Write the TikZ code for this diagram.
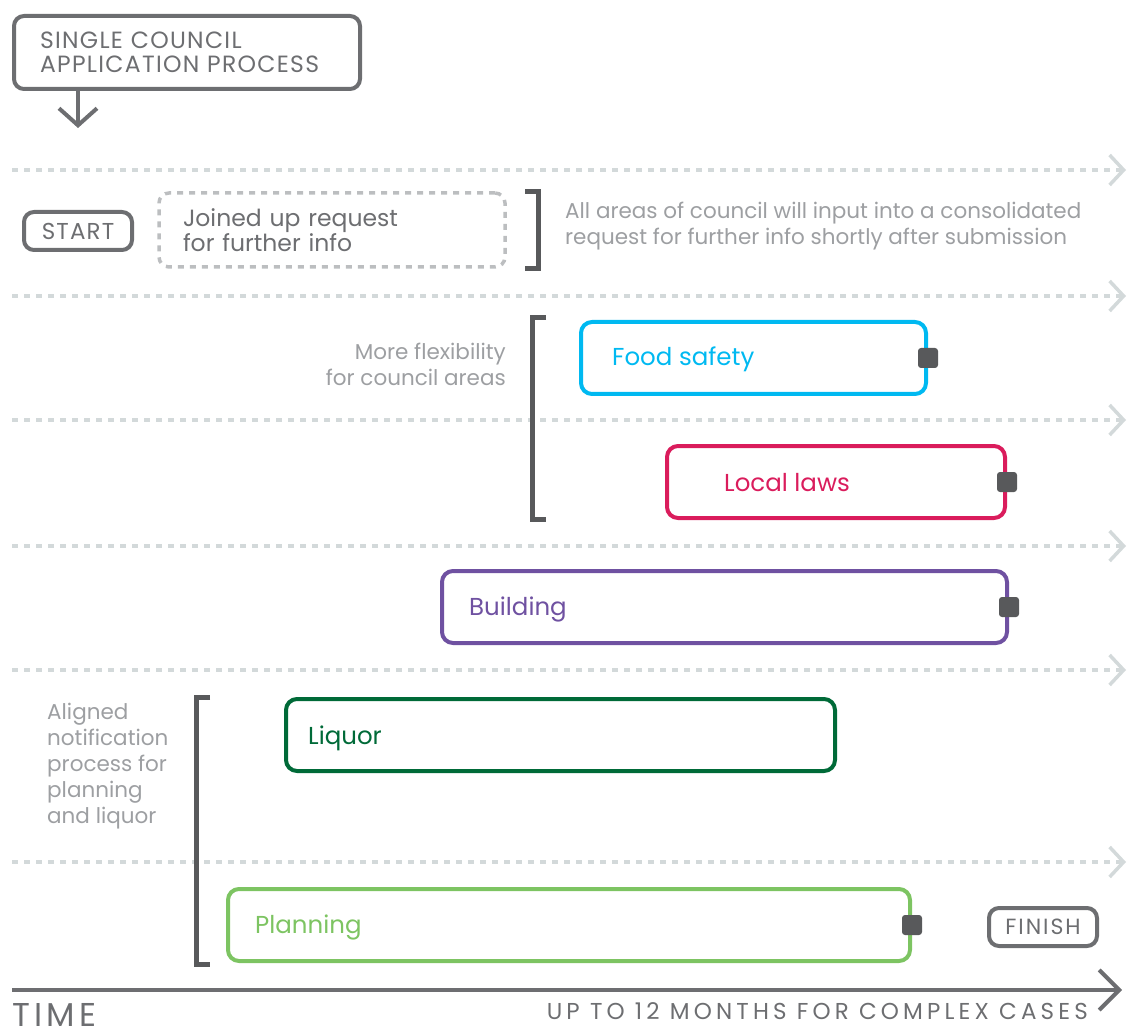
\documentclass[tikz,border=0pt]{standalone}
\usepackage{fontspec}
\setmainfont{Poppins}
\usetikzlibrary{arrows.meta}

\definecolor{framegray}{HTML}{6D6E71}
\definecolor{markgray}{HTML}{58595B}
\definecolor{divgray}{HTML}{D3D9DA}
\definecolor{dashgray}{HTML}{BCBEC0}
\definecolor{notegray}{HTML}{9D9FA2}
\definecolor{foodc}{HTML}{00B9F1}
\definecolor{lawsc}{HTML}{DA1C5C}
\definecolor{buildc}{HTML}{6F51A1}
\definecolor{liquorc}{HTML}{006A38}
\definecolor{planc}{HTML}{7DC462}

\newcommand{\tracked}[3]{\addfontfeatures{LetterSpace=#3}\fontsize{#1}{#2}\selectfont}

\tikzset{
  greybox/.style={draw=framegray, text=framegray, line width=4pt, rounded corners=10pt},
  dashbox/.style={draw=dashgray, text=framegray, line width=3.5pt, rounded corners=10pt,
    dash pattern=on 6pt off 6pt, font=\fontsize{23.5}{24}\selectfont},
  lane/.style={draw=#1, line width=4pt, rounded corners=11pt, minimum height=72pt},
  lanetext/.style={text=#1, anchor=base west, inner sep=0pt, font=\fontsize{24.5}{26}\selectfont},
  endmark/.style={fill=markgray, rounded corners=3pt, minimum size=20pt, inner sep=0pt},
  notetext/.style={text=notegray, inner sep=0pt, font=\fontsize{21.5}{26}\selectfont},
  divider/.style={draw=divgray, line width=3.5pt, dash pattern=on 6pt off 6pt,
    -{Straight Barb[length=14pt,width=30pt]}},
  bracketline/.style={draw=markgray, line width=5pt},
  flowarrow/.style={draw=framegray, line width=4pt, -{Straight Barb[length=17pt,width=38pt]}},
  timeaxis/.style={draw=framegray, line width=4pt, -{Straight Barb[length=20pt,width=40pt]}}
}

\begin{document}
\begin{tikzpicture}[x=1pt, y=-1pt]
\useasboundingbox (0,0) rectangle (1128,1032);

\foreach \y [count=\i] in {170,296,420,546,670,862} {
  \coordinate (dl\i) at (12,\y);
  \coordinate (dr\i) at (1126,\y);
  \draw[divider] (dl\i) -- (dr\i);
}

\node[greybox, minimum width=346pt, minimum height=73pt, text width=294pt, align=left,
    font=\tracked{23.5}{24}{5.5}] (single) at (187,52.5)
    {SINGLE COUNCIL\\APPLICATION PROCESS};
\coordinate (drop) at (78,128);
\draw[flowarrow] (single.south -| drop) -- (drop);

\node[greybox, minimum width=108pt, minimum height=38pt, font=\tracked{23}{24}{5}]
    (start) at (78,231) {START};
\node[dashbox, minimum width=346pt, minimum height=74pt, text width=298pt, align=left]
    (joined) at (332,230) {Joined up request\\for further info};
\draw[bracketline] (525,192) -- (538,192) -- (538,269) -- (525,269);
\node[notetext, anchor=west, align=left] (allnote) at (565,226)
    {All areas of council will input into a consolidated\\request for further info shortly after submission};

\draw[bracketline] (546,318) -- (532,318) -- (532,519) -- (546,519);
\node[notetext, anchor=east, align=right] (flexnote) at (506,364)
    {More flexibility\\for council areas};

\node[lane=foodc, minimum width=345pt] (food) at (753.5,358) {};
\node[lanetext=foodc] (foodlabel) at (612,366) {Food safety};
\node[endmark] (foodend) at (food.east) {};

\node[lane=lawsc, minimum width=338pt] (laws) at (836,482) {};
\node[lanetext=lawsc] (lawslabel) at (724,491) {Local laws};
\node[endmark] (lawsend) at (laws.east) {};

\node[lane=buildc, minimum width=565pt] (build) at (724.5,607) {};
\node[lanetext=buildc] (buildlabel) at (469,615) {Building};
\node[endmark] (buildend) at (build.east) {};

\node[lane=liquorc, minimum width=549pt] (liquor) at (560.5,735) {};
\node[lanetext=liquorc] (liquorlabel) at (308,744) {Liquor};

\node[lane=planc, minimum width=682pt] (plan) at (569,925) {};
\node[lanetext=planc] (planlabel) at (255,933) {Planning};
\node[endmark] (planend) at (plan.east) {};

\draw[bracketline] (210,697) -- (196,697) -- (196,964) -- (210,964);
\node[notetext, anchor=west, align=left] (alignnote) at (47,766)
    {Aligned\\notification\\process for\\planning\\and liquor};

\node[greybox, minimum width=108pt, minimum height=38pt, font=\tracked{22}{24}{9}]
    (finish) at (1043,927) {FINISH};

\coordinate (t0) at (12,990);
\coordinate (t1) at (1122,990);
\draw[timeaxis] (t0) -- (t1);
\node[text=framegray, anchor=base west, inner sep=0pt, font=\tracked{33}{34}{13}]
    (timelabel) at (12,1026) {TIME};
\node[text=framegray, anchor=base east, inner sep=0pt, font=\tracked{23}{24}{18}]
    (spanlabel) at (1088,1019) {UP TO 12 MONTHS FOR COMPLEX CASES};
\end{tikzpicture}
\end{document}
